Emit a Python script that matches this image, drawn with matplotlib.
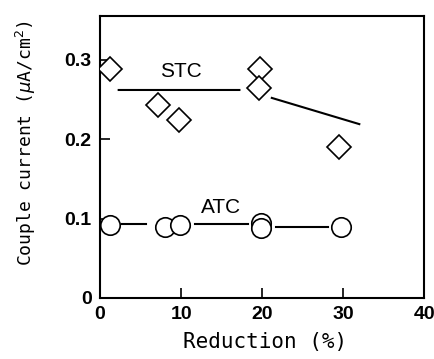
import matplotlib
matplotlib.use('Agg')
import matplotlib.pyplot as plt
import numpy as np

# STC (diamonds) and ATC (circles), couple current in uA/cm2
stc_x = [1.2, 7.1, 9.8, 19.8, 19.6, 29.5]
stc_y = [0.289, 0.243, 0.224, 0.289, 0.264, 0.190]
atc_x = [1.2, 8.0, 9.9, 19.9, 19.9, 29.8]
atc_y = [0.092, 0.090, 0.092, 0.095, 0.088, 0.089]

# hand-drawn trend lines (broken around the markers)
stc_fit_x = [2.3, 17.2, np.nan, 21.2, 32.0]
stc_fit_y = [0.262, 0.262, np.nan, 0.252, 0.219]
atc_fit_x = [2.7, 5.7, np.nan, 11.7, 18.2, np.nan, 21.7, 28.1]
atc_fit_y = [0.093, 0.093, np.nan, 0.093, 0.093, np.nan, 0.089, 0.089]

xticks = [0, 10, 20, 30, 40]
yticks = [0, 0.1, 0.2, 0.3]
ytick_labels = ['0', '0.1', '0.2', '0.3']

tick_font = dict(family=['Liberation Sans'], weight='bold', size=14)

fig = plt.figure(figsize=(4.35, 3.59), dpi=100)
ax = fig.add_axes([0.23, 0.17, 0.745, 0.785])

ax.plot(stc_fit_x, stc_fit_y, color='black', lw=1.5)
ax.plot(atc_fit_x, atc_fit_y, color='black', lw=1.5)
ax.plot(stc_x, stc_y, ls='none', marker='D', ms=12, mfc='white', mec='black', mew=1.2, zorder=3)
ax.plot(atc_x, atc_y, ls='none', marker='o', ms=14, mfc='white', mec='black', mew=1.2, zorder=3)

ax.text(10.0, 0.285, 'STC', ha='center', va='center', fontsize=15, family='Liberation Sans')
ax.text(14.9, 0.114, 'ATC', ha='center', va='center', fontsize=15, family='Liberation Sans')

ax.set_xlim(0, 40)
ax.set_ylim(0, 0.355)
ax.set_xticks(xticks)
ax.set_xticklabels([str(t) for t in xticks], fontdict=tick_font)
ax.set_yticks(yticks)
ax.set_yticklabels(ytick_labels, fontdict=tick_font)
ax.tick_params(direction='in', length=7, width=1.2, pad=6)

for s in ax.spines.values():
    s.set_linewidth(1.5)

ax.set_xlabel('Reduction (%)', family='DejaVu Sans Mono', size=15)
ax.set_ylabel('Couple current ($\\mu$A/cm$^2$)', family='DejaVu Sans Mono', size=13)
ax.xaxis.set_label_coords(0.51, -0.12)
ax.yaxis.set_label_coords(-0.19, 0.55)

fig.savefig('out.png', dpi=100)
